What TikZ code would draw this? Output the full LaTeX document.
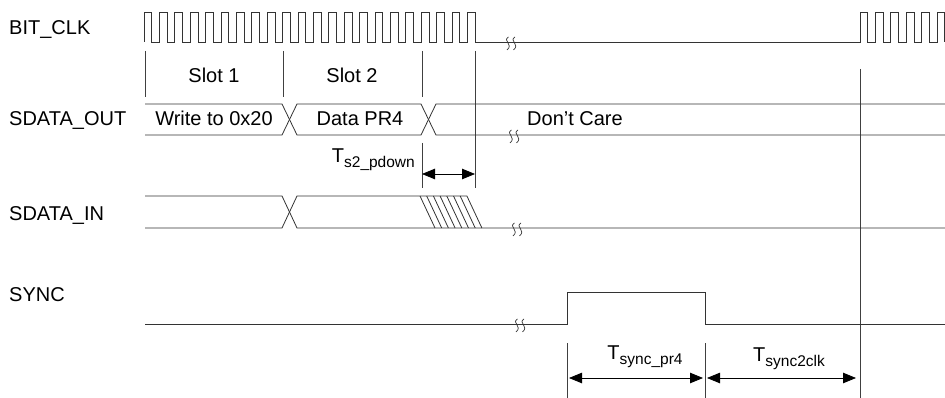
\documentclass[tikz,border=0pt]{standalone}
\usepackage{fontspec}
\setmainfont{Liberation Sans}
\usetikzlibrary{arrows.meta}

\newcommand{\tsub}[1]{\raisebox{-5pt}{\fontsize{15.5}{18}\selectfont #1}}

\tikzset{
  sig/.style={draw=black!80, line width=0.8pt},
  guide/.style={draw=black!75, line width=0.7pt},
  dimarrow/.style={draw=black, line width=0.8pt,
    {Triangle[length=13pt,width=10.5pt]}-{Triangle[length=13pt,width=10.5pt]}},
  brkmark/.pic={
    \draw[black!80, line width=0.7pt] (-2.5,-5) .. controls (-9,-1) and (3,2) .. (-4,8);
    \draw[black!80, line width=0.7pt] (4,-5) .. controls (-2.5,-1) and (9.5,2) .. (2.5,8);
  }
}

\begin{document}
\begin{tikzpicture}[x=1pt, y=-1pt,
  every node/.style={inner sep=0pt, font=\fontsize{20}{24}\selectfont}]
\useasboundingbox (0,0) rectangle (945,398);

% Signal names
\node[anchor=base west] (bitclk) at (9,35) {BIT\_CLK};
\node[anchor=base west] (sdataout) at (9,126) {SDATA\_OUT};
\node[anchor=base west] (sdatain) at (9,221) {SDATA\_IN};
\node[anchor=base west] (sync) at (9,301) {SYNC};

% BIT_CLK
\draw[sig] (144,42)
  \foreach \k in {0,...,21}{ -- ({144+15.4*\k},42) -- ({144+15.4*\k},12)
    -- ({151.7+15.4*\k},12) -- ({151.7+15.4*\k},42)}
  -- (860,42)
  \foreach \k in {0,...,5}{ -- ({860+15.4*\k},42) -- ({860+15.4*\k},12)
    -- ({867.7+15.4*\k},12) -- ({867.7+15.4*\k},42)};
\pic at (511,42) {brkmark};

% Slots
\draw[guide] (145,51) -- (145,97);
\draw[guide] (283,51) -- (283,97);
\draw[guide] (422,51) -- (422,97);
\draw[guide] (475,51) -- (475,188);
\draw[guide] (422,143) -- (422,188);
\draw[guide] (860,69) -- (860,398);
\node[anchor=base] (slot1) at (214,83) {Slot 1};
\node[anchor=base] (slot2) at (352,83) {Slot 2};

% SDATA_OUT
\draw[sig] (145,104) -- (282,104) -- (297,135) -- (421,135) -- (436,104) -- (945,104);
\draw[sig] (145,135) -- (282,135) -- (297,104) -- (421,104) -- (436,135) -- (945,135);
\pic at (514,135) {brkmark};
\node[anchor=base] (wr) at (214,126) {Write to 0x20};
\node[anchor=base] (pr4) at (360,126) {Data PR4};
\node[anchor=base west] (dc) at (527,126) {Don’t Care};

% T_s2_pdown
\coordinate (pd1) at (422,174);
\coordinate (pd2) at (475,174);
\draw[dimarrow] (pd1) -- (pd2);
\node[anchor=base east] (tpd) at (415,163) {T\tsub{s2\_pdown}};

% SDATA_IN
\draw[sig] (145,196) -- (282,196) -- (297,228) -- (945,228);
\draw[sig] (145,228) -- (282,228) -- (297,196) -- (467,196);
\foreach \k in {0,...,7}
  \draw[sig] ({420+6.7*\k},196) -- ({435+6.7*\k},228);
\pic at (517,228) {brkmark};

% SYNC
\draw[sig] (145,324) -- (567,324) -- (567,292) -- (705,292) -- (705,324) -- (945,324);
\pic at (520,324) {brkmark};
\draw[guide] (567,343) -- (567,398);
\draw[guide] (705,343) -- (705,398);
\coordinate (sp1) at (567,378);
\coordinate (sp2) at (705,378);
\coordinate (sc2) at (860,378);
\draw[dimarrow, shorten <=2pt, shorten >=2pt] (sp1) -- (sp2);
\draw[dimarrow, shorten <=2pt, shorten >=4pt] (sp2) -- (sc2);
\node[anchor=base] (tpr4) at (645,359) {T\tsub{sync\_pr4}};
\node[anchor=base] (ts2c) at (789,361) {T\tsub{sync2clk}};
\end{tikzpicture}
\end{document}
